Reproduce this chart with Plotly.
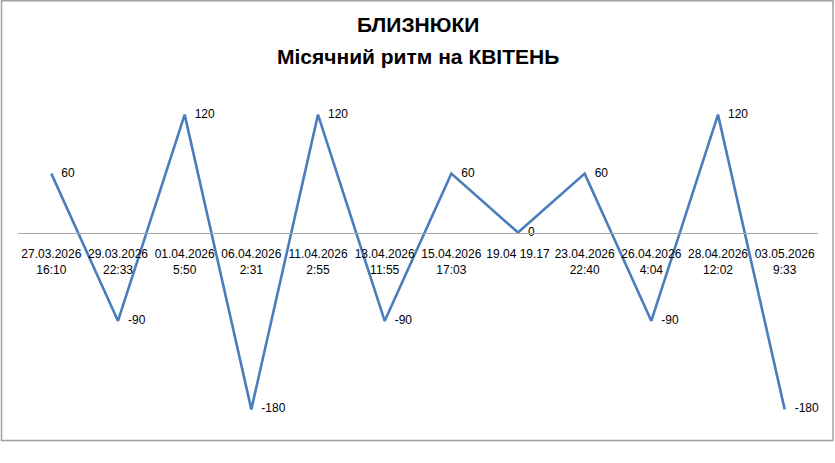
import plotly.graph_objects as go

categories = ["27.03.2026<br>16:10", "29.03.2026<br>22:33", "01.04.2026<br>5:50",
              "06.04.2026<br>2:31", "11.04.2026<br>2:55", "13.04.2026<br>11:55",
              "15.04.2026<br>17:03", "19.04 19.17", "23.04.2026<br>22:40",
              "26.04.2026<br>4:04", "28.04.2026<br>12:02", "03.05.2026<br>9:33"]
values = [60, -90, 120, -180, 120, -90, 60, 0, 60, -90, 120, -180]
title1 = "БЛИЗНЮКИ"
title2 = "Місячний ритм на КВІТЕНЬ"

W, H = 835, 463
ml, mr = 18, 17
ymin, ymax = -200, 140
top_px, bot_px = 95.4, 428.6
mt, mb = top_px, H - bot_px
ph = bot_px - top_px
pw = W - ml - mr

def py(p):
    return (bot_px - p) / ph

def px(p):
    return (p - ml) / pw

fig = go.Figure()
fig.add_trace(go.Scatter(
    x=list(range(len(values))), y=values, mode="lines+text",
    text=["&nbsp;&nbsp;&nbsp;" + str(v) for v in values], textposition="middle right",
    textfont=dict(family="Liberation Sans", size=12, color="#000000"),
    line=dict(color="#4a7ebb", width=2.6), cliponaxis=False,
    showlegend=False, hoverinfo="skip"))

fig.update_layout(
    width=W, height=H, paper_bgcolor="white", plot_bgcolor="white",
    margin=dict(l=ml, r=mr, t=mt, b=mb, pad=0),
    xaxis=dict(range=[-0.5, len(values) - 0.5], tickmode="array",
               tickvals=list(range(len(categories))), ticktext=categories,
               anchor="free", position=py(233), showline=True,
               linecolor="#a6a6a6", linewidth=1, showgrid=False, zeroline=False,
               ticks="", ticklabelstandoff=10,
               tickfont=dict(family="Liberation Sans", size=12, color="#000000")),
    yaxis=dict(range=[ymin, ymax], visible=False, showgrid=False, zeroline=False),
    annotations=[
        dict(text="<b>" + title1 + "</b>", xref="paper", yref="paper", x=0.5, y=py(25),
             xanchor="center", yanchor="middle", showarrow=False,
             font=dict(family="Liberation Sans", size=21, color="#000000")),
        dict(text="<b>" + title2 + "</b>", xref="paper", yref="paper", x=0.5, y=py(57),
             xanchor="center", yanchor="middle", showarrow=False,
             font=dict(family="Liberation Sans", size=21, color="#000000")),
    ],
    shapes=[dict(type="rect", xref="paper", yref="paper",
                 x0=px(1.5), x1=px(833), y0=py(440), y1=py(1.5),
                 line=dict(color="#a0a0a0", width=1.5))],
)
fig.write_html("out.html", config={"displayModeBar": False},
               post_script="document.body.style.margin='0';document.body.style.padding='0';")
